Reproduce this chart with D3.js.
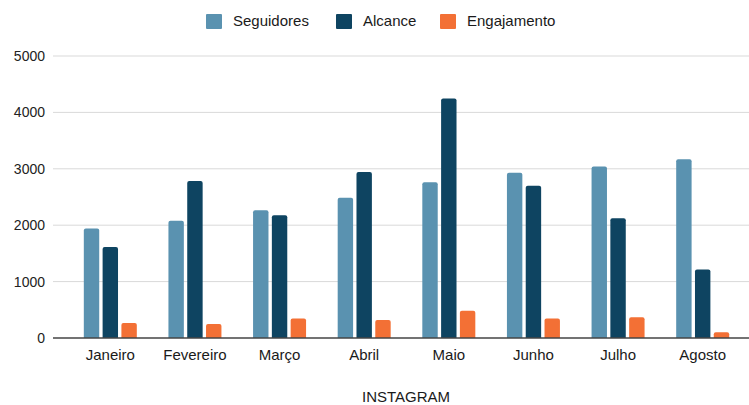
<!DOCTYPE html>
<html><head><meta charset="utf-8">
<script src="https://cdn.jsdelivr.net/npm/d3@7"></script>
<style>body{margin:0;background:#fff;}svg{display:block;font-family:"Liberation Sans",Arial,sans-serif;}</style>
</head><body><svg id="c" width="749" height="405"></svg>
<script>
const months = ["Janeiro","Fevereiro","Março","Abril","Maio","Junho","Julho","Agosto"];
const seriesNames = ["Seguidores","Alcance","Engajamento"];
const seguidores = [1940,2080,2265,2485,2760,2930,3040,3170];
const alcance = [1615,2785,2175,2945,4245,2700,2125,1215];
const engajamento = [265,250,345,320,485,345,370,100];
const yTicks = [0,1000,2000,3000,4000,5000];
const colors = ["#5a92b0","#0e4461","#f37035"];
const xTitle = "INSTAGRAM";

const values = [seguidores, alcance, engajamento];
const svg = d3.select("#c");
const y = d3.scaleLinear().domain([0,5000]).range([338,56]);
const x0 = d3.scaleBand().domain(months).range([68,745]).paddingInner(0).paddingOuter(0);
const groupW = 53;
const x1 = d3.scaleBand().domain(seriesNames).range([0,groupW]).paddingInner(0.18).paddingOuter(0);

// gridlines
svg.append("g").selectAll("line").data(yTicks.filter(d=>d>0)).join("line")
  .attr("x1",53).attr("x2",749).attr("y1",d=>y(d)).attr("y2",d=>y(d))
  .attr("stroke","#d9d9d9").attr("stroke-width",1);

// y labels
const yAxis = d3.axisLeft(y).tickValues(yTicks).tickSize(0).tickPadding(0).tickFormat(d3.format("d"));
const ya = svg.append("g").attr("transform","translate(45,0)").call(yAxis);
ya.select(".domain").remove();
ya.selectAll("text").attr("font-size",14).attr("fill","#222").attr("font-family","Liberation Sans, Arial, sans-serif");

// bars
const r = 2;
months.forEach((m,i)=>{
  const gx = x0(m) + (x0.bandwidth()-groupW)/2;
  seriesNames.forEach((s,j)=>{
    const v = values[j][i];
    const bx = gx + x1(s), bw = x1.bandwidth(), by = y(v), bh = y(0)-y(v);
    const rr = Math.min(r, bh/2);
    const p = `M${bx},${by+bh} L${bx},${by+rr} Q${bx},${by} ${bx+rr},${by} L${bx+bw-rr},${by} Q${bx+bw},${by} ${bx+bw},${by+rr} L${bx+bw},${by+bh} Z`;
    svg.append("path").attr("d",p).attr("fill",colors[j]);
  });
});

// x axis baseline
svg.append("line").attr("x1",53).attr("x2",749).attr("y1",y(0)).attr("y2",y(0))
  .attr("stroke","#444").attr("stroke-width",1.5);

// x labels
const xAxis = d3.axisBottom(x0).tickSize(0).tickPadding(0);
const xa = svg.append("g").attr("transform",`translate(0,${y(0)})`).call(xAxis);
xa.select(".domain").remove();
xa.selectAll("text").attr("font-size",15).attr("fill","#1a1a1a").attr("dy",null).attr("y",22)
  .attr("font-family","Liberation Sans, Arial, sans-serif");

// x title
svg.append("text").attr("x",406).attr("y",402).attr("text-anchor","middle")
  .attr("font-size",15).attr("fill","#1a1a1a").text(xTitle);

// legend
const legendX = [206,336,440];
const lg = svg.append("g");
seriesNames.forEach((s,j)=>{
  lg.append("rect").attr("x",legendX[j]).attr("y",14).attr("width",16).attr("height",15).attr("rx",1).attr("fill",colors[j]);
  lg.append("text").attr("x",legendX[j]+27).attr("y",26).attr("font-size",15).attr("fill","#1a1a1a").text(s);
});
</script></body></html>
